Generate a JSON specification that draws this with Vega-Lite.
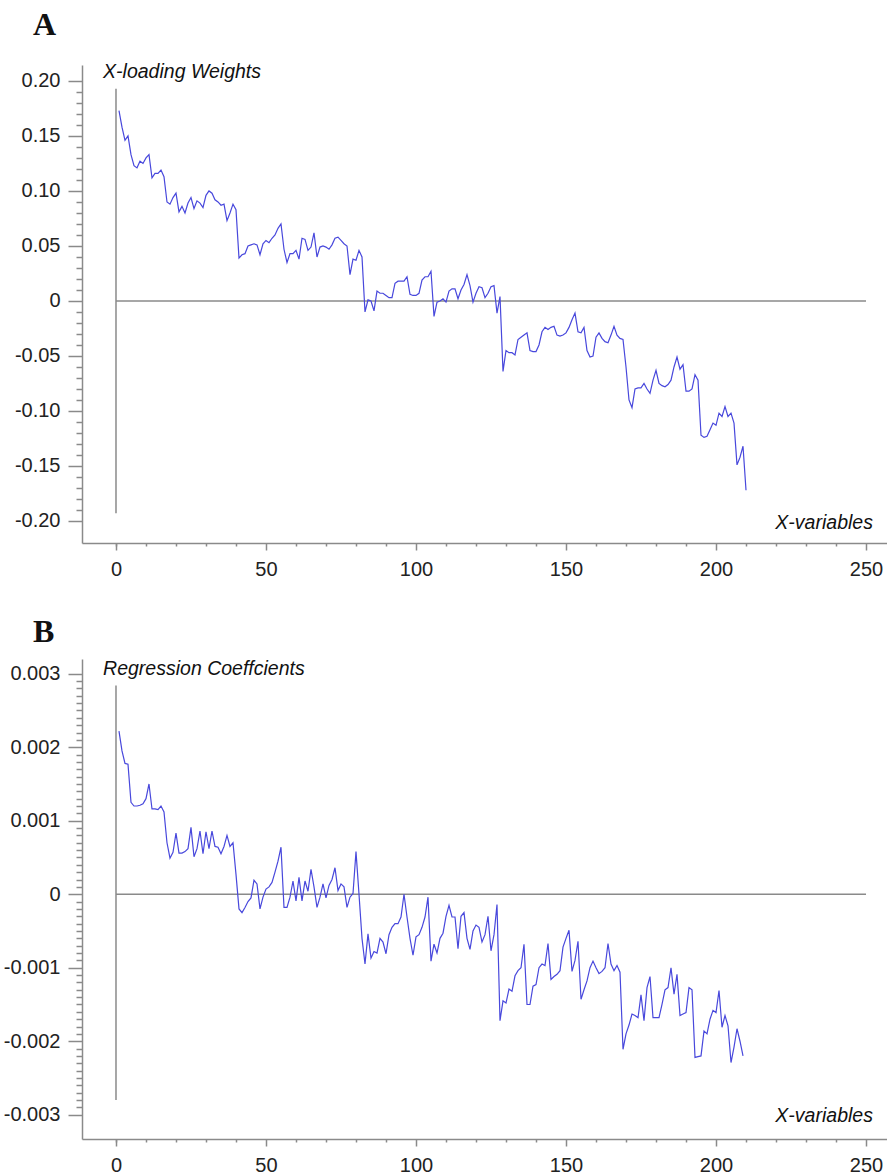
{
  "$schema": "https://vega.github.io/schema/vega-lite/v6.json",
  "padding": {"left": 3, "top": 8, "right": 0, "bottom": 0},
  "spacing": 36,
  "config": {
    "view": {"stroke": null},
    "font": "Liberation Sans",
    "axis": {
      "domainColor": "#8a8a8a", "domainWidth": 1.5, "tickColor": "#8a8a8a", "tickWidth": 1.5,
      "labelFont": "Liberation Sans", "labelFontSize": 20, "labelColor": "#222222",
      "grid": false, "title": null
    },
    "title": {"font": "Liberation Serif", "fontWeight": "bold", "fontSize": 32, "color": "#111111", "anchor": "start", "frame": "group", "baseline": "alphabetic"}
  },
  "datasets": {
    "one": [{}],
    "a": [
      {"v":1,"w":0.173},{"v":2,"w":0.158},{"v":3,"w":0.146},{"v":4,"w":0.150},{"v":5,"w":0.133},{"v":6,"w":0.123},{"v":7,"w":0.121},{"v":8,"w":0.127},{"v":9,"w":0.125},{"v":10,"w":0.130},
      {"v":11,"w":0.133},{"v":12,"w":0.112},{"v":13,"w":0.116},{"v":14,"w":0.116},{"v":15,"w":0.119},{"v":16,"w":0.113},{"v":17,"w":0.090},{"v":18,"w":0.088},{"v":19,"w":0.094},{"v":20,"w":0.098},
      {"v":21,"w":0.081},{"v":22,"w":0.086},{"v":23,"w":0.080},{"v":24,"w":0.089},{"v":25,"w":0.094},{"v":26,"w":0.084},{"v":27,"w":0.091},{"v":28,"w":0.089},{"v":29,"w":0.085},{"v":30,"w":0.096},
      {"v":31,"w":0.100},{"v":32,"w":0.098},{"v":33,"w":0.092},{"v":34,"w":0.090},{"v":35,"w":0.087},{"v":36,"w":0.088},{"v":37,"w":0.073},{"v":38,"w":0.080},{"v":39,"w":0.088},{"v":40,"w":0.083},
      {"v":41,"w":0.039},{"v":42,"w":0.042},{"v":43,"w":0.043},{"v":44,"w":0.050},{"v":45,"w":0.051},{"v":46,"w":0.052},{"v":47,"w":0.051},{"v":48,"w":0.042},{"v":49,"w":0.052},{"v":50,"w":0.055},
      {"v":51,"w":0.053},{"v":52,"w":0.057},{"v":53,"w":0.060},{"v":54,"w":0.066},{"v":55,"w":0.070},{"v":56,"w":0.047},{"v":57,"w":0.035},{"v":58,"w":0.043},{"v":59,"w":0.043},{"v":60,"w":0.046},
      {"v":61,"w":0.038},{"v":62,"w":0.057},{"v":63,"w":0.056},{"v":64,"w":0.046},{"v":65,"w":0.049},{"v":66,"w":0.062},{"v":67,"w":0.040},{"v":68,"w":0.049},{"v":69,"w":0.050},{"v":70,"w":0.049},
      {"v":71,"w":0.047},{"v":72,"w":0.051},{"v":73,"w":0.057},{"v":74,"w":0.058},{"v":75,"w":0.055},{"v":76,"w":0.052},{"v":77,"w":0.050},{"v":78,"w":0.024},{"v":79,"w":0.038},{"v":80,"w":0.037},
      {"v":81,"w":0.046},{"v":82,"w":0.040},{"v":83,"w":-0.010},{"v":84,"w":0.001},{"v":85,"w":0.000},{"v":86,"w":-0.009},{"v":87,"w":0.009},{"v":88,"w":0.007},{"v":89,"w":0.007},{"v":90,"w":0.005},
      {"v":91,"w":0.003},{"v":92,"w":0.003},{"v":93,"w":0.016},{"v":94,"w":0.018},{"v":95,"w":0.018},{"v":96,"w":0.018},{"v":97,"w":0.022},{"v":98,"w":0.006},{"v":99,"w":0.005},{"v":100,"w":0.005},
      {"v":101,"w":0.007},{"v":102,"w":0.019},{"v":103,"w":0.022},{"v":104,"w":0.022},{"v":105,"w":0.027},{"v":106,"w":-0.014},{"v":107,"w":-0.001},{"v":108,"w":0.000},{"v":109,"w":0.002},{"v":110,"w":-0.001},
      {"v":111,"w":0.009},{"v":112,"w":0.011},{"v":113,"w":0.011},{"v":114,"w":0.002},{"v":115,"w":0.010},{"v":116,"w":0.015},{"v":117,"w":0.024},{"v":118,"w":0.014},{"v":119,"w":-0.001},{"v":120,"w":0.007},
      {"v":121,"w":0.013},{"v":122,"w":0.012},{"v":123,"w":0.003},{"v":124,"w":0.007},{"v":125,"w":0.013},{"v":126,"w":0.014},{"v":127,"w":-0.011},{"v":128,"w":0.004},{"v":129,"w":-0.064},{"v":130,"w":-0.045},
      {"v":131,"w":-0.047},{"v":132,"w":-0.047},{"v":133,"w":-0.049},{"v":134,"w":-0.035},{"v":135,"w":-0.033},{"v":136,"w":-0.031},{"v":137,"w":-0.029},{"v":138,"w":-0.045},{"v":139,"w":-0.046},{"v":140,"w":-0.046},
      {"v":141,"w":-0.040},{"v":142,"w":-0.028},{"v":143,"w":-0.024},{"v":144,"w":-0.026},{"v":145,"w":-0.024},{"v":146,"w":-0.023},{"v":147,"w":-0.031},{"v":148,"w":-0.032},{"v":149,"w":-0.031},{"v":150,"w":-0.029},
      {"v":151,"w":-0.024},{"v":152,"w":-0.017},{"v":153,"w":-0.011},{"v":154,"w":-0.028},{"v":155,"w":-0.029},{"v":156,"w":-0.024},{"v":157,"w":-0.045},{"v":158,"w":-0.051},{"v":159,"w":-0.050},{"v":160,"w":-0.033},
      {"v":161,"w":-0.029},{"v":162,"w":-0.034},{"v":163,"w":-0.037},{"v":164,"w":-0.038},{"v":165,"w":-0.031},{"v":166,"w":-0.023},{"v":167,"w":-0.031},{"v":168,"w":-0.034},{"v":169,"w":-0.035},{"v":170,"w":-0.060},
      {"v":171,"w":-0.090},{"v":172,"w":-0.097},{"v":173,"w":-0.080},{"v":174,"w":-0.079},{"v":175,"w":-0.079},{"v":176,"w":-0.075},{"v":177,"w":-0.080},{"v":178,"w":-0.084},{"v":179,"w":-0.072},{"v":180,"w":-0.063},
      {"v":181,"w":-0.075},{"v":182,"w":-0.077},{"v":183,"w":-0.078},{"v":184,"w":-0.076},{"v":185,"w":-0.072},{"v":186,"w":-0.060},{"v":187,"w":-0.051},{"v":188,"w":-0.062},{"v":189,"w":-0.058},{"v":190,"w":-0.082},
      {"v":191,"w":-0.082},{"v":192,"w":-0.080},{"v":193,"w":-0.067},{"v":194,"w":-0.072},{"v":195,"w":-0.122},{"v":196,"w":-0.124},{"v":197,"w":-0.123},{"v":198,"w":-0.117},{"v":199,"w":-0.111},{"v":200,"w":-0.113},
      {"v":201,"w":-0.102},{"v":202,"w":-0.105},{"v":203,"w":-0.096},{"v":204,"w":-0.105},{"v":205,"w":-0.102},{"v":206,"w":-0.111},{"v":207,"w":-0.149},{"v":208,"w":-0.142},{"v":209,"w":-0.132},{"v":210,"w":-0.172}
    ],
    "b": [
      {"v":1,"c":0.00222},{"v":2,"c":0.00195},{"v":3,"c":0.00178},{"v":4,"c":0.00177},{"v":5,"c":0.00125},{"v":6,"c":0.00120},{"v":7,"c":0.00120},{"v":8,"c":0.00121},{"v":9,"c":0.00123},{"v":10,"c":0.00130},
      {"v":11,"c":0.00150},{"v":12,"c":0.00116},{"v":13,"c":0.00116},{"v":14,"c":0.00115},{"v":15,"c":0.00120},{"v":16,"c":0.00112},{"v":17,"c":0.00070},{"v":18,"c":0.00049},{"v":19,"c":0.00057},{"v":20,"c":0.00083},
      {"v":21,"c":0.00056},{"v":22,"c":0.00056},{"v":23,"c":0.00058},{"v":24,"c":0.00062},{"v":25,"c":0.00091},{"v":26,"c":0.00051},{"v":27,"c":0.00062},{"v":28,"c":0.00086},{"v":29,"c":0.00055},{"v":30,"c":0.00085},
      {"v":31,"c":0.00062},{"v":32,"c":0.00086},{"v":33,"c":0.00065},{"v":34,"c":0.00064},{"v":35,"c":0.00055},{"v":36,"c":0.00065},{"v":37,"c":0.00080},{"v":38,"c":0.00065},{"v":39,"c":0.00070},{"v":40,"c":0.00027},
      {"v":41,"c":-0.00020},{"v":42,"c":-0.00025},{"v":43,"c":-0.00018},{"v":44,"c":-0.00010},{"v":45,"c":-0.00005},{"v":46,"c":0.00019},{"v":47,"c":0.00014},{"v":48,"c":-0.00020},{"v":49,"c":-0.00004},{"v":50,"c":0.00007},
      {"v":51,"c":0.00010},{"v":52,"c":0.00016},{"v":53,"c":0.00030},{"v":54,"c":0.00045},{"v":55,"c":0.00064},{"v":56,"c":-0.00018},{"v":57,"c":-0.00018},{"v":58,"c":-0.00004},{"v":59,"c":0.00018},{"v":60,"c":-0.00009},
      {"v":61,"c":0.00023},{"v":62,"c":-0.00009},{"v":63,"c":0.00018},{"v":64,"c":0.00004},{"v":65,"c":0.00034},{"v":66,"c":0.00010},{"v":67,"c":-0.00018},{"v":68,"c":-0.00004},{"v":69,"c":0.00014},{"v":70,"c":-0.00005},
      {"v":71,"c":0.00012},{"v":72,"c":0.00020},{"v":73,"c":0.00036},{"v":74,"c":0.00005},{"v":75,"c":0.00014},{"v":76,"c":0.00010},{"v":77,"c":-0.00018},{"v":78,"c":-0.00004},{"v":79,"c":0.00001},{"v":80,"c":0.00058},
      {"v":81,"c":0.00000},{"v":82,"c":-0.00060},{"v":83,"c":-0.00095},{"v":84,"c":-0.00054},{"v":85,"c":-0.00087},{"v":86,"c":-0.00078},{"v":87,"c":-0.00080},{"v":88,"c":-0.00060},{"v":89,"c":-0.00065},{"v":90,"c":-0.00081},
      {"v":91,"c":-0.00055},{"v":92,"c":-0.00045},{"v":93,"c":-0.00040},{"v":94,"c":-0.00040},{"v":95,"c":-0.00031},{"v":96,"c":0.00000},{"v":97,"c":-0.00031},{"v":98,"c":-0.00060},{"v":99,"c":-0.00083},{"v":100,"c":-0.00058},
      {"v":101,"c":-0.00055},{"v":102,"c":-0.00045},{"v":103,"c":-0.00031},{"v":104,"c":-0.00004},{"v":105,"c":-0.00091},{"v":106,"c":-0.00068},{"v":107,"c":-0.00080},{"v":108,"c":-0.00060},{"v":109,"c":-0.00053},{"v":110,"c":-0.00030},
      {"v":111,"c":-0.00015},{"v":112,"c":-0.00031},{"v":113,"c":-0.00031},{"v":114,"c":-0.00074},{"v":115,"c":-0.00030},{"v":116,"c":-0.00025},{"v":117,"c":-0.00060},{"v":118,"c":-0.00075},{"v":119,"c":-0.00050},{"v":120,"c":-0.00042},
      {"v":121,"c":-0.00045},{"v":122,"c":-0.00065},{"v":123,"c":-0.00055},{"v":124,"c":-0.00030},{"v":125,"c":-0.00077},{"v":126,"c":-0.00055},{"v":127,"c":-0.00014},{"v":128,"c":-0.00172},{"v":129,"c":-0.00145},{"v":130,"c":-0.00148},
      {"v":131,"c":-0.00129},{"v":132,"c":-0.00132},{"v":133,"c":-0.00111},{"v":134,"c":-0.00104},{"v":135,"c":-0.00100},{"v":136,"c":-0.00068},{"v":137,"c":-0.00150},{"v":138,"c":-0.00150},{"v":139,"c":-0.00125},{"v":140,"c":-0.00123},
      {"v":141,"c":-0.00100},{"v":142,"c":-0.00095},{"v":143,"c":-0.00097},{"v":144,"c":-0.00067},{"v":145,"c":-0.00116},{"v":146,"c":-0.00112},{"v":147,"c":-0.00109},{"v":148,"c":-0.00104},{"v":149,"c":-0.00072},{"v":150,"c":-0.00060},
      {"v":151,"c":-0.00049},{"v":152,"c":-0.00105},{"v":153,"c":-0.00090},{"v":154,"c":-0.00064},{"v":155,"c":-0.00143},{"v":156,"c":-0.00130},{"v":157,"c":-0.00118},{"v":158,"c":-0.00100},{"v":159,"c":-0.00091},{"v":160,"c":-0.00100},
      {"v":161,"c":-0.00108},{"v":162,"c":-0.00105},{"v":163,"c":-0.00100},{"v":164,"c":-0.00067},{"v":165,"c":-0.00095},{"v":166,"c":-0.00104},{"v":167,"c":-0.00097},{"v":168,"c":-0.00106},{"v":169,"c":-0.00211},{"v":170,"c":-0.00190},
      {"v":171,"c":-0.00178},{"v":172,"c":-0.00163},{"v":173,"c":-0.00165},{"v":174,"c":-0.00168},{"v":175,"c":-0.00137},{"v":176,"c":-0.00172},{"v":177,"c":-0.00127},{"v":178,"c":-0.00112},{"v":179,"c":-0.00168},{"v":180,"c":-0.00168},
      {"v":181,"c":-0.00168},{"v":182,"c":-0.00150},{"v":183,"c":-0.00130},{"v":184,"c":-0.00127},{"v":185,"c":-0.00100},{"v":186,"c":-0.00136},{"v":187,"c":-0.00109},{"v":188,"c":-0.00165},{"v":189,"c":-0.00163},{"v":190,"c":-0.00161},
      {"v":191,"c":-0.00127},{"v":192,"c":-0.00130},{"v":193,"c":-0.00222},{"v":194,"c":-0.00221},{"v":195,"c":-0.00220},{"v":196,"c":-0.00186},{"v":197,"c":-0.00190},{"v":198,"c":-0.00170},{"v":199,"c":-0.00158},{"v":200,"c":-0.00161},
      {"v":201,"c":-0.00131},{"v":202,"c":-0.00181},{"v":203,"c":-0.00165},{"v":204,"c":-0.00179},{"v":205,"c":-0.00229},{"v":206,"c":-0.00208},{"v":207,"c":-0.00183},{"v":208,"c":-0.00200},{"v":209,"c":-0.00220}
    ]
  },
  "vconcat": [
    {
      "title": {"text": "A", "dx": -49, "offset": 20},
      "width": 809,
      "height": 478,
      "resolve": {"axis": {"x": "independent", "y": "independent"}},
      "layer": [
        {
          "data": {"name": "one"},
          "mark": {"type": "rule", "color": "#8a8a8a", "strokeWidth": 1.5},
          "encoding": {
            "x": {"datum": 0, "type": "quantitative", "scale": {"domain": [-11.33, 258.33], "nice": false, "zero": false}, "axis": null},
            "y": {"datum": -0.193, "type": "quantitative", "scale": {"domain": [-0.22, 0.2145], "nice": false, "zero": false}, "axis": null},
            "y2": {"datum": 0.193}
          }
        },
        {
          "data": {"name": "one"},
          "mark": {"type": "rule", "color": "#8a8a8a", "strokeWidth": 1.5},
          "encoding": {
            "x": {"datum": 0, "type": "quantitative", "scale": {"domain": [-11.33, 258.33], "nice": false, "zero": false},
              "axis": {"orient": "bottom", "values": [0,10,20,30,40,60,70,80,90,110,120,130,140,160,170,180,190,210,220,230,240], "tickSize": 3, "labels": false, "domain": false}},
            "x2": {"datum": 250},
            "y": {"datum": 0, "type": "quantitative", "scale": {"domain": [-0.22, 0.2145], "nice": false, "zero": false},
              "axis": {"orient": "left", "values": [-0.19,-0.18,-0.17,-0.16,-0.14,-0.13,-0.12,-0.11,-0.09,-0.08,-0.07,-0.06,-0.04,-0.03,-0.02,-0.01,0.01,0.02,0.03,0.04,0.06,0.07,0.08,0.09,0.11,0.12,0.13,0.14,0.16,0.17,0.18,0.19], "tickSize": 6, "labels": false, "domain": false}}
          }
        },
        {
          "data": {"name": "a"},
          "mark": {"type": "line", "color": "#4848dc", "strokeWidth": 1.2},
          "encoding": {
            "x": {
              "field": "v", "type": "quantitative",
              "scale": {"domain": [-11.33, 258.33], "nice": false, "zero": false},
              "axis": {"orient": "bottom", "values": [0,50,100,150,200,250], "tickSize": 7, "labelPadding": 9, "labelOverlap": false, "labelBound": false, "labelFlush": false}
            },
            "y": {
              "field": "w", "type": "quantitative",
              "scale": {"domain": [-0.22, 0.2145], "nice": false, "zero": false},
              "axis": {
                "orient": "left",
                "values": [-0.2,-0.15,-0.1,-0.05,0,0.05,0.1,0.15,0.2],
                "tickSize": 14,
                "labelExpr": "abs(datum.value) < 0.000001 ? '0' : replace(format(datum.value, '.2f'), '\u2212', '-')",
                "labelPadding": 8, "labelOverlap": false, "labelBound": false, "labelFlush": false
              }
            }
          }
        },
        {
          "data": {"name": "one"},
          "mark": {"type": "text", "text": "X-loading Weights", "font": "Liberation Sans", "fontStyle": "italic", "fontSize": 19.5, "align": "left", "baseline": "middle", "color": "#111111"},
          "encoding": {
            "x": {"datum": -4.3, "type": "quantitative", "scale": {"domain": [-11.33, 258.33], "nice": false, "zero": false}, "axis": null},
            "y": {"datum": 0.2082, "type": "quantitative", "scale": {"domain": [-0.22, 0.2145], "nice": false, "zero": false}, "axis": null}
          }
        },
        {
          "data": {"name": "one"},
          "mark": {"type": "text", "text": "X-variables", "font": "Liberation Sans", "fontStyle": "italic", "fontSize": 19.5, "align": "right", "baseline": "middle", "color": "#111111"},
          "encoding": {
            "x": {"datum": 252.3, "type": "quantitative", "scale": {"domain": [-11.33, 258.33], "nice": false, "zero": false}, "axis": null},
            "y": {"datum": -0.2018, "type": "quantitative", "scale": {"domain": [-0.22, 0.2145], "nice": false, "zero": false}, "axis": null}
          }
        }
      ]
    },
    {
      "title": {"text": "B", "dx": -49, "offset": 10},
      "width": 809,
      "height": 480,
      "resolve": {"axis": {"x": "independent", "y": "independent"}},
      "layer": [
        {
          "data": {"name": "one"},
          "mark": {"type": "rule", "color": "#8a8a8a", "strokeWidth": 1.5},
          "encoding": {
            "x": {"datum": 0, "type": "quantitative", "scale": {"domain": [-11.33, 258.33], "nice": false, "zero": false}, "axis": null},
            "y": {"datum": -0.0028, "type": "quantitative", "scale": {"domain": [-0.00333, 0.0032], "nice": false, "zero": false}, "axis": null},
            "y2": {"datum": 0.00284}
          }
        },
        {
          "data": {"name": "one"},
          "mark": {"type": "rule", "color": "#8a8a8a", "strokeWidth": 1.5},
          "encoding": {
            "x": {"datum": 0, "type": "quantitative", "scale": {"domain": [-11.33, 258.33], "nice": false, "zero": false},
              "axis": {"orient": "bottom", "values": [0,10,20,30,40,60,70,80,90,110,120,130,140,160,170,180,190,210,220,230,240], "tickSize": 3, "labels": false, "domain": false}},
            "x2": {"datum": 250},
            "y": {"datum": 0, "type": "quantitative", "scale": {"domain": [-0.00333, 0.0032], "nice": false, "zero": false},
              "axis": {"orient": "left", "values": [-0.0029,-0.0028,-0.0027,-0.0026,-0.0025,-0.0024,-0.0023,-0.0022,-0.0021,-0.0019,-0.0018,-0.0017,-0.0016,-0.0015,-0.0014,-0.0013,-0.0012,-0.0011,-0.0009,-0.0008,-0.0007,-0.0006,-0.0005,-0.0004,-0.0003,-0.0002,-0.0001,0.0001,0.0002,0.0003,0.0004,0.0005,0.0006,0.0007,0.0008,0.0009,0.0011,0.0012,0.0013,0.0014,0.0015,0.0016,0.0017,0.0018,0.0019,0.0021,0.0022,0.0023,0.0024,0.0025,0.0026,0.0027,0.0028,0.0029], "tickSize": 6, "labels": false, "domain": false}}
          }
        },
        {
          "data": {"name": "b"},
          "mark": {"type": "line", "color": "#4848dc", "strokeWidth": 1.2},
          "encoding": {
            "x": {
              "field": "v", "type": "quantitative",
              "scale": {"domain": [-11.33, 258.33], "nice": false, "zero": false},
              "axis": {"orient": "bottom", "values": [0,50,100,150,200,250], "tickSize": 7, "labelPadding": 9, "labelOverlap": false, "labelBound": false, "labelFlush": false}
            },
            "y": {
              "field": "c", "type": "quantitative",
              "scale": {"domain": [-0.00333, 0.0032], "nice": false, "zero": false},
              "axis": {
                "orient": "left",
                "values": [-0.003,-0.002,-0.001,0,0.001,0.002,0.003],
                "tickSize": 14,
                "labelExpr": "abs(datum.value) < 0.0000001 ? '0' : replace(format(datum.value, '.3f'), '\u2212', '-')",
                "labelPadding": 8, "labelOverlap": false, "labelBound": false, "labelFlush": false
              }
            }
          }
        },
        {
          "data": {"name": "one"},
          "mark": {"type": "text", "text": "Regression Coeffcients", "font": "Liberation Sans", "fontStyle": "italic", "fontSize": 19.5, "align": "left", "baseline": "middle", "color": "#111111"},
          "encoding": {
            "x": {"datum": -4.3, "type": "quantitative", "scale": {"domain": [-11.33, 258.33], "nice": false, "zero": false}, "axis": null},
            "y": {"datum": 0.00307, "type": "quantitative", "scale": {"domain": [-0.00333, 0.0032], "nice": false, "zero": false}, "axis": null}
          }
        },
        {
          "data": {"name": "one"},
          "mark": {"type": "text", "text": "X-variables", "font": "Liberation Sans", "fontStyle": "italic", "fontSize": 19.5, "align": "right", "baseline": "middle", "color": "#111111"},
          "encoding": {
            "x": {"datum": 252.3, "type": "quantitative", "scale": {"domain": [-11.33, 258.33], "nice": false, "zero": false}, "axis": null},
            "y": {"datum": -0.00302, "type": "quantitative", "scale": {"domain": [-0.00333, 0.0032], "nice": false, "zero": false}, "axis": null}
          }
        }
      ]
    }
  ]
}
